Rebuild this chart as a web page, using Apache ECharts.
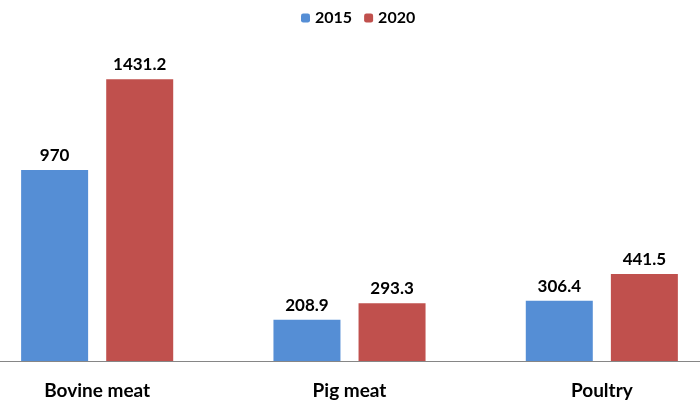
<!DOCTYPE html>
<html><head><meta charset="utf-8">
<script src="https://cdn.jsdelivr.net/npm/echarts@6/dist/echarts.min.js"></script>
<style>html,body{margin:0;padding:0;background:#fff}#c{width:700px;height:403px}</style>
</head><body><div id="c"></div>
<script>
const categories = ['Bovine meat', 'Pig meat', 'Poultry'];
const values2015 = [970, 208.9, 306.4];
const values2020 = [1431.2, 293.3, 441.5];
const seriesNames = ['2015', '2020'];
const font = 'Lato, "Open Sans", sans-serif';
const chart = echarts.init(document.getElementById('c'));
const lbl = {show: true, position: 'top', distance: 6, color: '#000', fontWeight: 'bold', fontSize: 17, fontFamily: font};
chart.setOption({
  animation: false,
  legend: {top: 5, left: 296, itemWidth: 9, itemHeight: 9, itemGap: 12,
    textStyle: {fontWeight: 'bold', fontSize: 16, color: '#000', fontFamily: font}},
  grid: {left: -29, width: 757, top: 46, height: 315, containLabel: false, outerBoundsMode: 'none'},
  xAxis: {type: 'category', data: categories,
    axisLine: {lineStyle: {color: '#868686', width: 1}}, axisTick: {show: false},
    axisLabel: {margin: 20, color: '#000', fontWeight: 'bold', fontSize: 19, fontFamily: font}},
  yAxis: {type: 'value', min: 0, max: 1600, show: false, splitLine: {show: false}},
  series: [
    {name: seriesNames[0], type: 'bar', data: values2015, barWidth: 67, barGap: '27%', itemStyle: {color: '#558ED5'}, label: lbl},
    {name: seriesNames[1], type: 'bar', data: values2020, barWidth: 67, itemStyle: {color: '#C0504D'}, label: lbl}
  ]
});
</script></body></html>
